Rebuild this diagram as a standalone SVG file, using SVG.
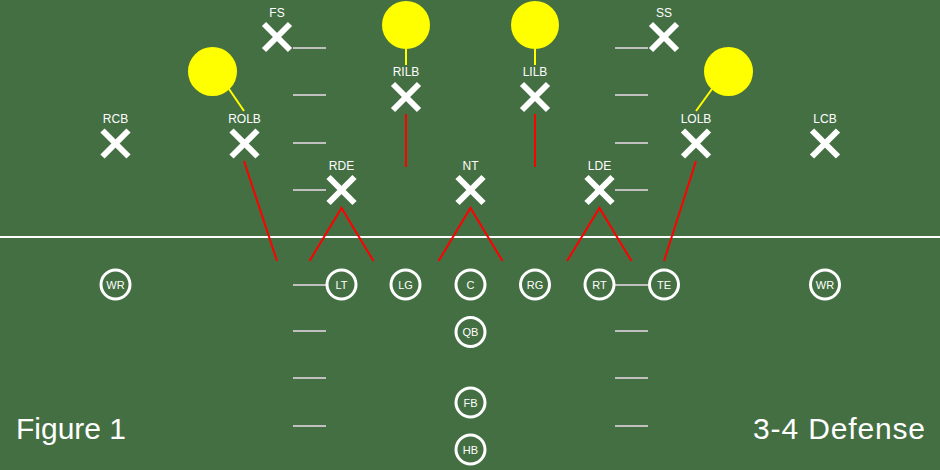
<svg xmlns="http://www.w3.org/2000/svg" width="940" height="470" viewBox="0 0 940 470">
<style>
.hash{stroke:#c0c0c0;stroke-width:2}
.x{stroke:#fff;stroke-width:6}
.lbl{fill:#fff;font-family:"Liberation Sans",Arial,sans-serif;font-size:12px;text-anchor:middle}
.off{fill:none;stroke:#fff;stroke-width:3}
.olbl{fill:#fff;font-family:"Liberation Sans",Arial,sans-serif;font-size:11px;text-anchor:middle}
.zone{fill:#ffff00}
.drop{stroke:#ffff00;stroke-width:2}
.rush{stroke:#ff0000;stroke-width:2;fill:none}
.big{fill:#fff;font-family:"Liberation Sans",Arial,sans-serif;font-size:30px}
</style>
<defs>
<g id="xm"><line class="x" x1="-13" y1="-13" x2="13" y2="13"/><line class="x" x1="-13" y1="13" x2="13" y2="-13"/></g>
<circle id="om" class="off" r="14.5"/>
</defs>
<rect width="940" height="470" fill="#446f43"/>
<g id="field">
<line x1="0" y1="237" x2="940" y2="237" stroke="#fff" stroke-width="2"/>
<g class="hash">
<line x1="293" y1="48" x2="326" y2="48"/><line x1="293" y1="95" x2="326" y2="95"/><line x1="293" y1="143" x2="326" y2="143"/><line x1="293" y1="190" x2="326" y2="190"/>
<line x1="293" y1="285" x2="326" y2="285"/><line x1="293" y1="331" x2="326" y2="331"/><line x1="293" y1="378" x2="326" y2="378"/><line x1="293" y1="426" x2="326" y2="426"/>
<line x1="615" y1="48" x2="648" y2="48"/><line x1="615" y1="95" x2="648" y2="95"/><line x1="615" y1="143" x2="648" y2="143"/><line x1="615" y1="190" x2="648" y2="190"/>
<line x1="615" y1="285" x2="648" y2="285"/><line x1="615" y1="331" x2="648" y2="331"/><line x1="615" y1="378" x2="648" y2="378"/><line x1="615" y1="426" x2="648" y2="426"/>
</g>
</g>
<g id="connectors">
<circle class="zone" cx="212.5" cy="71.5" r="24.5"/>
<circle class="zone" cx="406" cy="25" r="24"/>
<circle class="zone" cx="535" cy="25" r="24"/>
<circle class="zone" cx="728.5" cy="71.5" r="24.5"/>
<line class="drop" x1="229" y1="89" x2="244" y2="111"/>
<line class="drop" x1="406" y1="49" x2="406" y2="65"/>
<line class="drop" x1="535" y1="49" x2="535" y2="65"/>
<line class="drop" x1="712" y1="89" x2="696" y2="111"/>
<line class="rush" x1="244" y1="161" x2="277" y2="261"/>
<line class="rush" x1="406" y1="114" x2="406" y2="167"/>
<line class="rush" x1="535" y1="114" x2="535" y2="167"/>
<line class="rush" x1="696" y1="161" x2="664" y2="261"/>
<polyline class="rush" points="309.5,261 341.5,208 373.5,261"/>
<polyline class="rush" points="438.5,261 470.5,208 502.5,261"/>
<polyline class="rush" points="567,261 599.5,208 631.5,261"/>
</g>
<g id="FS"><use href="#xm" x="277" y="37"/><text class="lbl" x="277" y="17">FS</text></g>
<g id="SS"><use href="#xm" x="664" y="37"/><text class="lbl" x="664" y="17">SS</text></g>
<g id="RILB"><use href="#xm" x="406" y="97"/><text class="lbl" x="406" y="76">RILB</text></g>
<g id="LILB"><use href="#xm" x="535" y="97"/><text class="lbl" x="535" y="76">LILB</text></g>
<g id="RCB"><use href="#xm" x="115.5" y="143.5"/><text class="lbl" x="115.5" y="123">RCB</text></g>
<g id="ROLB"><use href="#xm" x="244.5" y="143.5"/><text class="lbl" x="244.5" y="123">ROLB</text></g>
<g id="LOLB"><use href="#xm" x="696" y="143.5"/><text class="lbl" x="696" y="123">LOLB</text></g>
<g id="LCB"><use href="#xm" x="825" y="143.5"/><text class="lbl" x="825" y="123">LCB</text></g>
<g id="RDE"><use href="#xm" x="341.5" y="190"/><text class="lbl" x="341.5" y="170">RDE</text></g>
<g id="NT"><use href="#xm" x="470.5" y="190"/><text class="lbl" x="470.5" y="170">NT</text></g>
<g id="LDE"><use href="#xm" x="599.5" y="190"/><text class="lbl" x="599.5" y="170">LDE</text></g>
<g id="WR1"><use href="#om" x="115.5" y="284.5"/><text class="olbl" x="115.5" y="288.5">WR</text></g>
<g id="LT"><use href="#om" x="341.5" y="284.5"/><text class="olbl" x="341.5" y="288.5">LT</text></g>
<g id="LG"><use href="#om" x="405.5" y="284.5"/><text class="olbl" x="405.5" y="288.5">LG</text></g>
<g id="C"><use href="#om" x="470.5" y="284.5"/><text class="olbl" x="470.5" y="288.5">C</text></g>
<g id="RG"><use href="#om" x="535" y="284.5"/><text class="olbl" x="535" y="288.5">RG</text></g>
<g id="RT"><use href="#om" x="599.5" y="284.5"/><text class="olbl" x="599.5" y="288.5">RT</text></g>
<g id="TE"><use href="#om" x="664" y="284.5"/><text class="olbl" x="664" y="288.5">TE</text></g>
<g id="WR2"><use href="#om" x="825" y="284.5"/><text class="olbl" x="825" y="288.5">WR</text></g>
<g id="QB"><use href="#om" x="470.5" y="332"/><text class="olbl" x="470.5" y="336">QB</text></g>
<g id="FB"><use href="#om" x="470.5" y="402.5"/><text class="olbl" x="470.5" y="406.5">FB</text></g>
<g id="HB"><use href="#om" x="470.5" y="449.5"/><text class="olbl" x="470.5" y="453.5">HB</text></g>
<text class="big" x="16" y="439" textLength="110" lengthAdjust="spacing">Figure 1</text>
<text class="big" x="753" y="439" textLength="172" lengthAdjust="spacing">3-4 Defense</text>
</svg>
